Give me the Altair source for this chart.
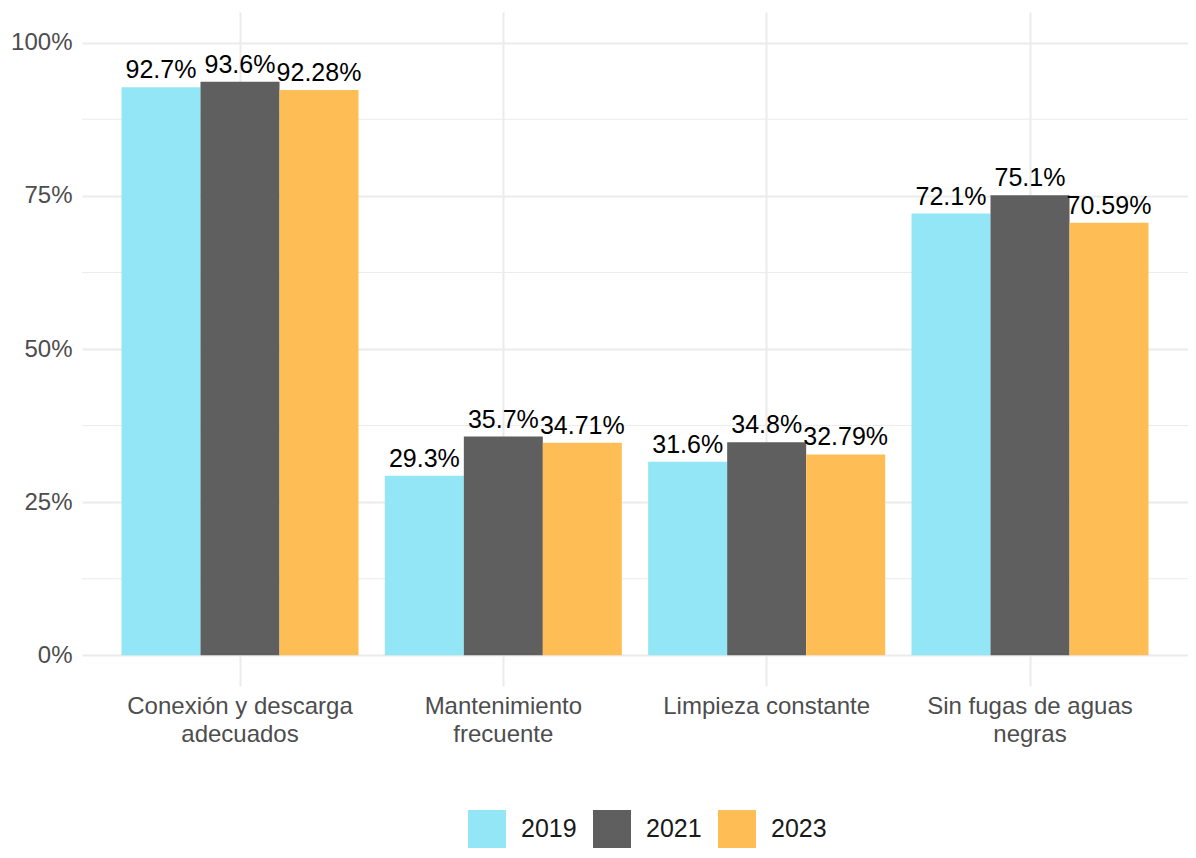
import altair as alt
import pandas as pd

categories = ["Conexión y descarga\nadecuados", "Mantenimiento\nfrecuente",
              "Limpieza constante", "Sin fugas de aguas\nnegras"]
years = ["2019", "2021", "2023"]
v2019 = [92.7, 29.3, 31.6, 72.1]
v2021 = [93.6, 35.7, 34.8, 75.1]
v2023 = [92.28, 34.71, 32.79, 70.59]
colors = ["#93E6F5", "#5F5F5F", "#FFBE55"]
y_major = [0, 25, 50, 75, 100]
y_minor = [12.5, 37.5, 62.5, 87.5]

rows = []
for yr, vals in zip(years, [v2019, v2021, v2023]):
    for c, v in zip(categories, vals):
        rows.append({"category": c, "year": yr, "value": v, "label": f"{v:g}%"})
df = pd.DataFrame(rows)
minor_df = pd.DataFrame({"v": y_minor})

FONT = "Liberation Sans"
GRID = "#EBEBEB"

yscale = alt.Scale(domain=[-5, 105], nice=False, zero=False)

x = alt.X("category:N", sort=categories,
          scale=alt.Scale(paddingInner=0.1, paddingOuter=0.15),
          axis=alt.Axis(title=None, labelExpr="split(datum.label, '\\n')",
                        grid=True, gridColor=GRID, gridWidth=2, ticks=False,
                        domain=False, labelAngle=0, labelFontSize=24,
                        labelColor="#4D4D4D", labelPadding=8, labelLineHeight=28,
                        labelFont=FONT, labelLimit=0))
xoff = alt.XOffset("year:N", sort=years, scale=alt.Scale(paddingInner=0, paddingOuter=0))

y = alt.Y("value:Q", scale=yscale,
          axis=alt.Axis(title=None, values=y_major, labelExpr="datum.value + '%'",
                        grid=True, gridColor=GRID, gridWidth=2, ticks=False,
                        domain=False, labelFontSize=24, labelColor="#4D4D4D",
                        labelPadding=10, labelFont=FONT))

minor = alt.Chart(minor_df).mark_rule(color=GRID, strokeWidth=1).encode(
    y=alt.Y("v:Q", scale=yscale)
)

base = alt.Chart(df)
bars = base.mark_bar().encode(
    x=x, xOffset=xoff, y=y,
    color=alt.Color("year:N", sort=years,
                    scale=alt.Scale(domain=years, range=colors),
                    legend=alt.Legend(title=None, orient="none", direction="horizontal",
                                      legendX=386, legendY=798, symbolType="square",
                                      symbolSize=1444, symbolStrokeWidth=0,
                                      labelFontSize=25, labelFont=FONT,
                                      labelColor="#1A1A1A", labelOffset=15,
                                      columnPadding=16, padding=0)),
)
texts = base.mark_text(dy=-9, fontSize=25, font=FONT, baseline="alphabetic",
                       color="black").encode(
    x=x, xOffset=xoff, y=alt.Y("value:Q", scale=yscale), text="label:N"
)

chart = alt.layer(minor, bars, texts).properties(
    width=1106, height=674, autosize="none",
    padding={"left": 74, "top": 4, "right": 0, "bottom": 164},
).configure(font=FONT).configure_view(strokeWidth=0, stroke=None)

chart.save("out.html", embed_options={"renderer": "svg", "actions": False})
